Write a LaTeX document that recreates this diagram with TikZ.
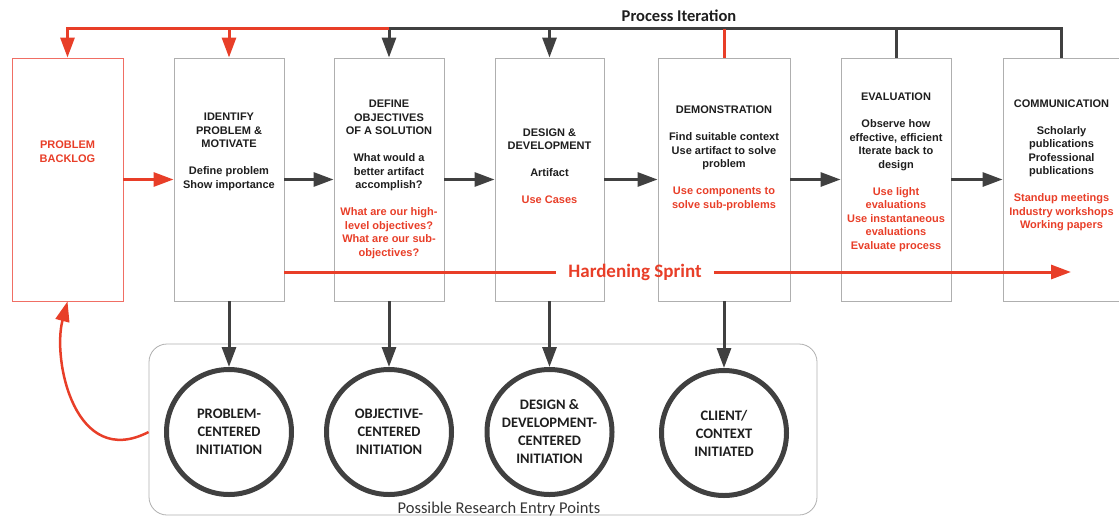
\documentclass[tikz,border=0pt]{standalone}
\usepackage{fontspec}
\setmainfont{Liberation Sans}
\newfontfamily\calibfont{Carlito}
\usepackage{tikz}
\usetikzlibrary{arrows.meta, positioning, calc}
\definecolor{sprintred}{RGB}{232, 62, 40}
\definecolor{flowgray}{RGB}{64, 64, 64}
\definecolor{inkblack}{RGB}{30, 30, 30}
\definecolor{framegray}{RGB}{175, 175, 175}
\definecolor{backlogpink}{RGB}{240, 110, 100}
\newcommand{\redln}[1]{\textcolor{sprintred}{#1}}
\tikzset{
  stagebox/.style={draw=framegray, line width=0.9pt, minimum width=110pt, minimum height=243pt, inner sep=0pt},
  stagetext/.style={align=center, text=inkblack, font=\fontsize{11}{13.5}\selectfont\bfseries},
  entrycircle/.style={circle, draw=flowgray, line width=5pt, minimum size=125pt, inner sep=0pt,
    align=center, text=inkblack, font=\calibfont\fontsize{14.5}{18}\selectfont\bfseries},
  entryframe/.style={draw=framegray, line width=0.8pt, rounded corners=18pt, inner sep=0pt},
  darkline/.style={draw=flowgray, line width=3pt},
  redline/.style={draw=sprintred, line width=3pt},
  darkarrow/.style={darkline, -{Triangle[length=20pt, width=14pt]}},
  redarrow/.style={redline, -{Triangle[length=20pt, width=14pt]}}
}

\begin{document}
\begin{tikzpicture}[x=1pt, y=-1pt]
  \useasboundingbox (0,0) rectangle (1119,517);

  % Stage boxes
  \node[stagebox, draw=backlogpink, minimum width=111pt] (backlog) at (67.5,179.5) {};
  \node[stagebox] (ident) at (229,179.5) {};
  \node[stagebox] (define) at (389,179.5) {};
  \node[stagebox, minimum width=109pt] (design) at (549.5,179.5) {};
  \node[stagebox, minimum width=132pt] (demo) at (724,179.5) {};
  \node[stagebox] (eval) at (896,179.5) {};
  \node[stagebox, minimum width=117pt] (comm) at (1061.5,179.5) {};

  % Stage texts
  \node[stagetext, text=sprintred] (backlogtxt) at (67.5,151.5) {PROBLEM\\BACKLOG};
  \node[stagetext] (identtxt) at (229,152) {IDENTIFY\\PROBLEM \&\\MOTIVATE\\[13.5pt]Define problem\\Show importance};
  \node[stagetext] (definetxt) at (389,179.5) {DEFINE\\OBJECTIVES\\OF A SOLUTION\\[13.5pt]What would a\\better artifact\\accomplish?\\[13.5pt]%
    \redln{What are our high-}\\\redln{level objectives?}\\\redln{What are our sub-}\\\redln{objectives?}};
  \node[stagetext] (designtxt) at (549.5,166) {DESIGN \&\\DEVELOPMENT\\[13.5pt]Artifact\\[13.5pt]\redln{Use Cases}};
  \node[stagetext] (demotxt) at (724,158.5) {DEMONSTRATION\\[13.5pt]Find suitable context\\Use artifact to solve\\problem\\[13.5pt]%
    \redln{Use components to}\\\redln{solve sub-problems}};
  \node[stagetext] (evaltxt) at (896,172.5) {EVALUATION\\[13.5pt]Observe how\\effective, efficient\\Iterate back to\\design\\[13.5pt]%
    \redln{Use light}\\\redln{evaluations}\\\redln{Use instantaneous}\\\redln{evaluations}\\\redln{Evaluate process}};
  \node[stagetext] (commtxt) at (1061.5,165.5) {COMMUNICATION\\[13.5pt]Scholarly\\publications\\Professional\\publications\\[13.5pt]%
    \redln{Standup meetings}\\\redln{Industry workshops}\\\redln{Working papers}};

  % Process iteration
  \coordinate (itop) at (0,28.5);
  \node[anchor=base, text=inkblack, font=\calibfont\fontsize{16.5}{20}\selectfont\bfseries] (iterlbl) at (679,21.5) {Process Iteration};
  \draw[darkline] (define.north |- itop) -- (comm.north |- itop) -- (comm.north);
  \draw[darkline] (eval.north |- itop) -- (eval.north);
  \draw[darkarrow] (define.north |- itop) -- (define.north);
  \draw[darkarrow] (design.north |- itop) -- (design.north);
  \draw[redline] (demo.north |- itop) -- (demo.north);
  \draw[redarrow] (define.north |- itop) -- (backlog.north |- itop) -- (backlog.north);
  \draw[redarrow] (ident.north |- itop) -- (ident.north);

  % Main flow
  \draw[redarrow] (backlog.east) -- (ident.west);
  \draw[darkarrow] (ident.east) -- (define.west);
  \draw[darkarrow] (define.east) -- (design.west);
  \draw[darkarrow] (design.east) -- (demo.west);
  \draw[darkarrow] (demo.east) -- (eval.west);
  \draw[darkarrow] (eval.east) -- (comm.west);

  % Hardening sprint
  \node[text=sprintred, inner xsep=12pt, inner ysep=0pt, font=\calibfont\fontsize{19}{22}\selectfont\bfseries] (hstxt) at (635,272) {Hardening Sprint};
  \coordinate (sprintend) at (1071,272);
  \draw[redline] (ident.east |- hstxt.west) -- (hstxt.west);
  \draw[redarrow] (hstxt.east) -- (sprintend);

  % Entry points
  \node[entryframe, minimum width=668pt, minimum height=171pt] (entry) at (483,429.5) {};
  \node[anchor=base, text=inkblack!90, font=\calibfont\fontsize{16.5}{20}\selectfont] (entrytxt) at (499,513) {Possible Research Entry Points};
  \node[entrycircle] (c1) at (229,432) {PROBLEM-\\CENTERED\\INITIATION};
  \node[entrycircle] (c2) at (389,432) {OBJECTIVE-\\CENTERED\\INITIATION};
  \node[entrycircle] (c3) at (549.5,432) {DESIGN \&\\DEVELOPMENT-\\CENTERED\\INITIATION};
  \node[entrycircle] (c4) at (724,433) {CLIENT/\\CONTEXT\\INITIATED};
  \draw[darkarrow] (ident.south) -- (ident.south |- c1.north);
  \draw[darkarrow] (define.south) -- (define.south |- c2.north);
  \draw[darkarrow] (design.south) -- (design.south |- c3.north);
  \draw[darkarrow] (demo.south) -- (demo.south |- c4.north);

  % Back to backlog
  \draw[redarrow, line width=2.5pt] (entry.west |- c1) .. controls (75,470) and (52,360) .. (backlog.south);
\end{tikzpicture}
\end{document}
